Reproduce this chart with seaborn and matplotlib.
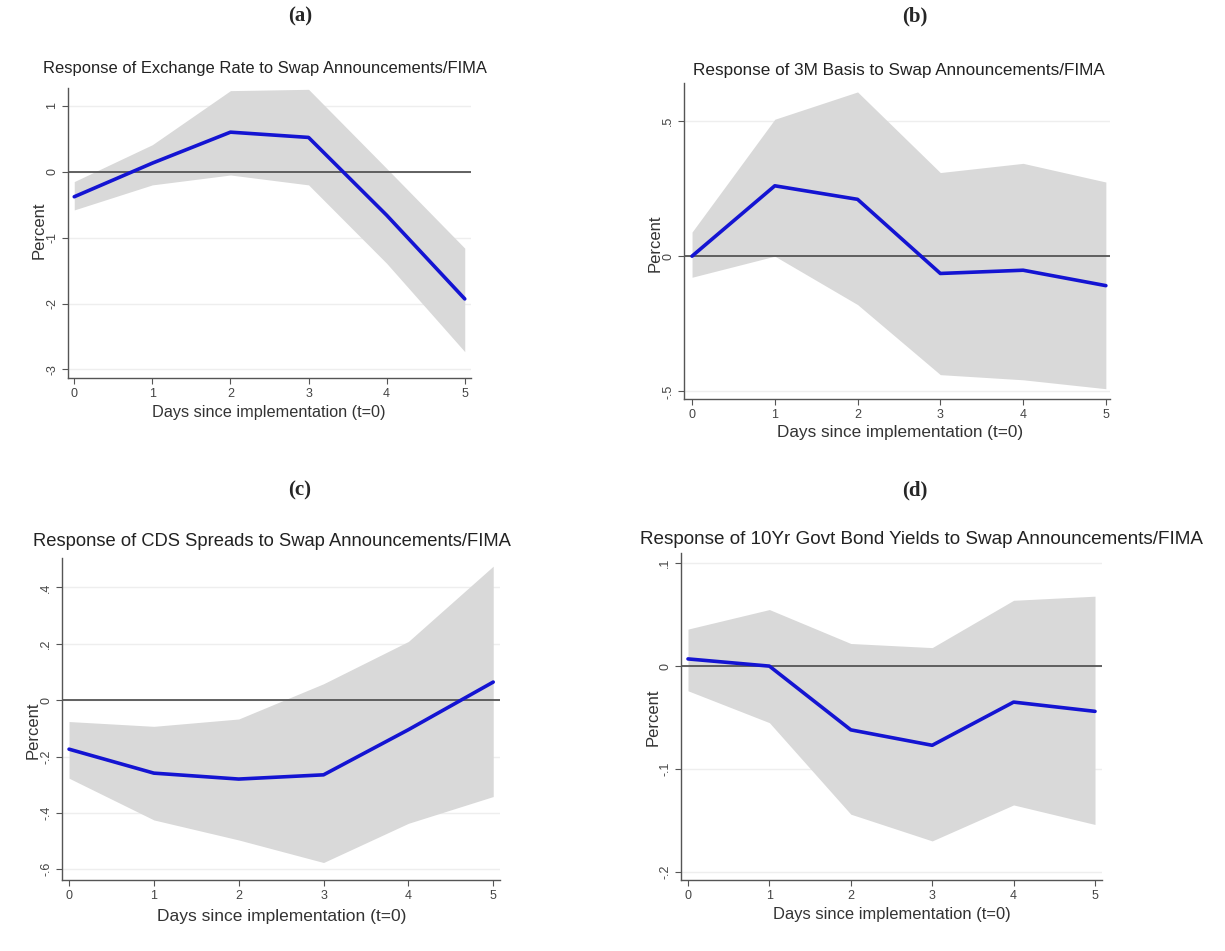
import numpy as np
import pandas as pd
import matplotlib
matplotlib.use("Agg")
import matplotlib.pyplot as plt
import seaborn as sns

sns.set_style("white")
plt.rcParams['font.family'] = ['Liberation Sans', 'DejaVu Sans']

days = [0, 1, 2, 3, 4, 5]

# (a) exchange rate
fx_irf = [-0.38, 0.13, 0.60, 0.52, -0.66, -1.93]
fx_hi = [-0.15, 0.41, 1.23, 1.25, 0.05, -1.16]
fx_lo = [-0.58, -0.20, -0.05, -0.20, -1.39, -2.73]

# (b) 3M basis
basis_irf = [0.0, 0.26, 0.21, -0.064, -0.052, -0.109]
basis_hi = [0.089, 0.506, 0.607, 0.309, 0.343, 0.274]
basis_lo = [-0.078, 0.0, -0.179, -0.438, -0.457, -0.49]

# (c) CDS spreads
cds_irf = [-0.174, -0.259, -0.28, -0.265, -0.105, 0.064]
cds_hi = [-0.076, -0.093, -0.067, 0.058, 0.208, 0.475]
cds_lo = [-0.277, -0.425, -0.496, -0.576, -0.437, -0.342]

# (d) 10yr bond yields
bond_irf = [0.007, 0.0, -0.062, -0.077, -0.035, -0.044]
bond_hi = [0.036, 0.055, 0.022, 0.018, 0.064, 0.068]
bond_lo = [-0.024, -0.055, -0.144, -0.170, -0.135, -0.154]

# pixel layout for each panel (each was a separate Stata graph, so sizes differ a bit)
panels = [
    dict(tag='(a)', title='Response of Exchange Rate to Swap Announcements/FIMA',
         irf=fx_irf, hi=fx_hi, lo=fx_lo,
         box=(68, 88, 471, 378), xlim=(-0.08, 5.08), ylim=(-3.13, 1.27),
         yticks=[-3, -2, -1, 0, 1], ylabels=['-3', '-2', '-1', '0', '1'],
         tag_xy=(300, 16), title_xy=(43, 68), title_fs=11.9,
         ylab_xy=(39, 230), xlab_xy=(269, 412), xlab_fs=11.7),
    dict(tag='(b)', title='Response of 3M Basis to Swap Announcements/FIMA',
         irf=basis_irf, hi=basis_hi, lo=basis_lo,
         box=(684, 83, 1110, 399), xlim=(-0.097, 5.05), ylim=(-0.528, 0.64),
         yticks=[-0.5, 0, 0.5], ylabels=['-.5', '0', '.5'],
         tag_xy=(915, 16), title_xy=(693, 70), title_fs=12.3,
         ylab_xy=(655, 243), xlab_xy=(900, 433), xlab_fs=12.3),
    dict(tag='(c)', title='Response of CDS Spreads to Swap Announcements/FIMA',
         irf=cds_irf, hi=cds_hi, lo=cds_lo,
         box=(62, 558, 500, 880), xlim=(-0.083, 5.08), ylim=(-0.638, 0.504),
         yticks=[-0.6, -0.4, -0.2, 0, 0.2, 0.4], ylabels=['-.6', '-.4', '-.2', '0', '.2', '.4'],
         tag_xy=(300, 490), title_xy=(33, 542), title_fs=13.2,
         ylab_xy=(33, 730), xlab_xy=(282, 917), xlab_fs=12.5),
    dict(tag='(d)', title='Response of 10Yr Govt Bond Yields to Swap Announcements/FIMA',
         irf=bond_irf, hi=bond_hi, lo=bond_lo,
         box=(681, 553, 1102, 880), xlim=(-0.086, 5.086), ylim=(-0.208, 0.11),
         yticks=[-0.2, -0.1, 0, 0.1], ylabels=['-.2', '-.1', '0', '.1'],
         tag_xy=(915, 490), title_xy=(640, 540), title_fs=13.6,
         ylab_xy=(653, 717), xlab_xy=(892, 915), xlab_fs=11.9),
]

W, H = 1225, 951
fig = plt.figure(figsize=(W / 100, H / 100), dpi=100)

for p in panels:
    x0, y0, x1, y1 = p['box']
    ax = fig.add_axes([x0 / W, 1 - y1 / H, (x1 - x0) / W, (y1 - y0) / H])
    df = pd.DataFrame({'day': days, 'irf': p['irf'], 'hi': p['hi'], 'lo': p['lo']})
    ax.fill_between(df['day'], df['lo'], df['hi'], color='#d9d9d9', lw=0, zorder=1)
    for yt in p['yticks']:
        ax.axhline(yt, color='#eeeeee', lw=1, zorder=0)
    ax.axhline(0, color='#555555', lw=1.3, zorder=2)
    sns.lineplot(data=df, x='day', y='irf', ax=ax, color='#1414d2', lw=2.6, zorder=3)
    ax.set_xlim(*p['xlim'])
    ax.set_ylim(*p['ylim'])
    ax.set_xticks(days)
    ax.set_yticks(p['yticks'])
    ax.set_yticklabels(p['ylabels'], rotation=90, va='center')
    ax.tick_params(axis='both', direction='out', length=4, width=0.8, color='#555555',
                   labelsize=9, labelcolor='#444444', pad=3, left=True, bottom=True)
    for s in ['top', 'right']:
        ax.spines[s].set_visible(False)
    for s in ['left', 'bottom']:
        ax.spines[s].set_color('#555555')
        ax.spines[s].set_linewidth(1.0)
    ax.set_xlabel('')
    ax.set_ylabel('')

    fig.text(p['xlab_xy'][0] / W, 1 - p['xlab_xy'][1] / H, 'Days since implementation (t=0)',
             ha='center', va='center', fontsize=p['xlab_fs'], color='#333333')
    fig.text(p['ylab_xy'][0] / W, 1 - p['ylab_xy'][1] / H, 'Percent', rotation=90,
             ha='center', va='center', fontsize=12, color='#333333')
    fig.text(p['title_xy'][0] / W, 1 - p['title_xy'][1] / H, p['title'], ha='left', va='center',
             fontsize=p['title_fs'], color='#222222')
    fig.text(p['tag_xy'][0] / W, 1 - p['tag_xy'][1] / H, p['tag'], ha='center', va='center',
             fontsize=15, fontweight='bold', family='Liberation Serif')

fig.savefig('out.png', dpi=100, facecolor='white')
